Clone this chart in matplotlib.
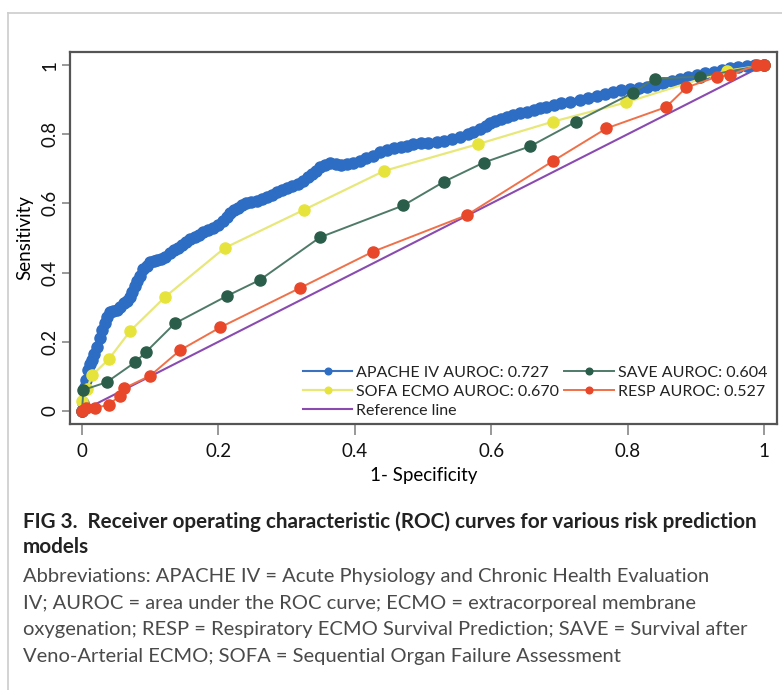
import matplotlib
matplotlib.use('Agg')
import matplotlib.pyplot as plt
from matplotlib.lines import Line2D

plt.rcParams['font.family'] = ['Lato', 'DejaVu Sans']

# ROC points (1 - specificity, sensitivity)
apache_fpr = [0, 0.002, 0.004, 0.006, 0.009, 0.012, 0.014, 0.018, 0.022, 0.026, 0.029, 0.033,
              0.036, 0.041, 0.046, 0.051, 0.056, 0.061, 0.066, 0.070, 0.073, 0.077, 0.080, 0.085,
              0.090, 0.095, 0.100, 0.105, 0.110, 0.116, 0.122, 0.129, 0.135, 0.141, 0.147, 0.153,
              0.159, 0.165, 0.172, 0.178, 0.185, 0.192, 0.200, 0.206, 0.212, 0.217, 0.223, 0.229,
              0.235, 0.241, 0.248, 0.256, 0.264, 0.271, 0.279, 0.286, 0.293, 0.300, 0.308, 0.316,
              0.324, 0.331, 0.337, 0.343, 0.349, 0.356, 0.364, 0.372, 0.380, 0.388, 0.397, 0.407,
              0.417, 0.427, 0.437, 0.447, 0.457, 0.467, 0.477, 0.486, 0.497, 0.508, 0.520, 0.531,
              0.543, 0.554, 0.566, 0.574, 0.584, 0.592, 0.598, 0.606, 0.615, 0.623, 0.632, 0.642,
              0.652, 0.662, 0.672, 0.681, 0.692, 0.703, 0.715, 0.730, 0.742, 0.755, 0.767, 0.779,
              0.791, 0.803, 0.816, 0.828, 0.840, 0.852, 0.865, 0.877, 0.889, 0.901, 0.913, 0.926,
              0.938, 0.950, 0.962, 0.975, 0.987, 1.0]
apache_tpr = [0, 0.022, 0.070, 0.090, 0.118, 0.135, 0.147, 0.165, 0.186, 0.210, 0.234, 0.255,
              0.273, 0.285, 0.290, 0.292, 0.300, 0.311, 0.318, 0.330, 0.345, 0.360, 0.375, 0.390,
              0.410, 0.420, 0.430, 0.434, 0.437, 0.440, 0.445, 0.456, 0.465, 0.472, 0.480, 0.489,
              0.497, 0.503, 0.510, 0.518, 0.524, 0.530, 0.538, 0.550, 0.562, 0.571, 0.580, 0.588,
              0.594, 0.600, 0.603, 0.608, 0.613, 0.619, 0.625, 0.632, 0.640, 0.644, 0.650, 0.657,
              0.666, 0.675, 0.684, 0.695, 0.706, 0.712, 0.716, 0.714, 0.712, 0.713, 0.717, 0.722,
              0.730, 0.738, 0.748, 0.755, 0.760, 0.764, 0.767, 0.771, 0.774, 0.776, 0.778, 0.781,
              0.787, 0.793, 0.800, 0.807, 0.815, 0.824, 0.831, 0.838, 0.845, 0.851, 0.855, 0.860,
              0.865, 0.870, 0.875, 0.879, 0.884, 0.889, 0.894, 0.899, 0.905, 0.911, 0.917, 0.923,
              0.927, 0.931, 0.934, 0.937, 0.943, 0.949, 0.955, 0.961, 0.966, 0.971, 0.976, 0.981,
              0.986, 0.991, 0.995, 0.998, 1.0, 1.0]

sofa_fpr = [0, 0.007, 0.015, 0.039, 0.071, 0.122, 0.209, 0.325, 0.443, 0.580, 0.690, 0.798, 0.945, 1.0]
sofa_tpr = [0.03, 0.063, 0.104, 0.149, 0.232, 0.330, 0.471, 0.581, 0.694, 0.771, 0.836, 0.892, 0.983, 1.0]

save_fpr = [0, 0.002, 0.036, 0.078, 0.094, 0.136, 0.212, 0.261, 0.349, 0.471, 0.531, 0.589, 0.657,
            0.724, 0.808, 0.840, 0.906, 1.0]
save_tpr = [0, 0.061, 0.083, 0.141, 0.171, 0.253, 0.332, 0.379, 0.502, 0.594, 0.663, 0.718, 0.765,
            0.836, 0.920, 0.961, 0.966, 1.0]

resp_fpr = [0, 0.006, 0.019, 0.039, 0.055, 0.062, 0.100, 0.144, 0.203, 0.319, 0.426, 0.564, 0.691,
            0.769, 0.856, 0.886, 0.931, 0.950, 0.989, 1.0]
resp_tpr = [0, 0.008, 0.010, 0.017, 0.044, 0.066, 0.102, 0.176, 0.242, 0.355, 0.460, 0.566, 0.723,
            0.817, 0.878, 0.935, 0.966, 0.971, 1.0, 1.0]

ref_x = [0, 1]
ref_y = [0, 1]

labels = ['APACHE IV AUROC: 0.727', 'SOFA ECMO AUROC: 0.670', 'SAVE AUROC: 0.604',
          'RESP AUROC: 0.527', 'Reference line']
ticks = [0, 0.2, 0.4, 0.6, 0.8, 1]
tick_labels = ['0', '0.2', '0.4', '0.6', '0.8', '1']

caption_title = 'FIG 3.  Receiver operating characteristic (ROC) curves for various risk prediction\nmodels'
caption_body = ['Abbreviations: APACHE IV = Acute Physiology and Chronic Health Evaluation',
                'IV; AUROC = area under the ROC curve; ECMO = extracorporeal membrane',
                'oxygenation; RESP = Respiratory ECMO Survival Prediction; SAVE = Survival after',
                'Veno-Arterial ECMO; SOFA = Sequential Organ Failure Assessment']

fig = plt.figure(figsize=(7.82, 6.9), dpi=100)

#light frame around the figure panel
fig.add_artist(Line2D([8/782, 8/782], [0, 1 - 13/690], color='#cccccc', lw=1.2))
fig.add_artist(Line2D([8/782, 1], [1 - 13/690, 1 - 13/690], color='#cccccc', lw=1.2))

ax = fig.add_axes([70/782, 1 - 424/690, 707/782, 372/690])

ax.plot(ref_x, ref_y, color='#8a4bb0', lw=1.5, zorder=1)
l_ap, = ax.plot(apache_fpr, apache_tpr, color='#3a72c0', lw=1.5, marker='o', ms=8,
                mfc='#2e6dc4', mec='#2e6dc4', zorder=2)
l_so, = ax.plot(sofa_fpr, sofa_tpr, color='#e8e87a', lw=1.6, marker='o', ms=8,
                mfc='#e6e43c', mec='#e6e43c', zorder=3)
l_sa, = ax.plot(save_fpr, save_tpr, color='#4f7a68', lw=1.4, marker='o', ms=8,
                mfc='#2b5e4a', mec='#2b5e4a', zorder=4)
l_re, = ax.plot(resp_fpr, resp_tpr, color='#f07048', lw=1.4, marker='o', ms=8,
                mfc='#e8472a', mec='#e8472a', zorder=5)
l_ref = Line2D([], [], color='#8a4bb0', lw=1.5)

ax.set_xlim(-0.0176, 1.019)
ax.set_ylim(-0.0376, 1.0376)
ax.set_xticks(ticks)
ax.set_xticklabels(tick_labels)
ax.set_yticks(ticks)
ax.set_yticklabels(tick_labels, rotation=90, va='center')
ax.tick_params(direction='out', width=1.2, color='#888888', labelsize=13.5, labelcolor='#111111')
ax.tick_params(axis='x', length=8, pad=6)
ax.tick_params(axis='y', length=6, pad=2)
for s in ax.spines.values():
    s.set_color('#555555')
    s.set_linewidth(1.6)

ax.set_xlabel('1- Specificity', fontsize=13.5, labelpad=5)
ax.set_ylabel('Sensitivity', fontsize=13.5, labelpad=6)

# legend: two columns, no frame
leg = ax.legend([l_ap, l_so, l_ref, l_sa, l_re],
                [labels[0], labels[1], labels[4], labels[2], labels[3]],
                ncol=2, loc='lower right', bbox_to_anchor=(0.995, 0.0), borderaxespad=0,
                frameon=False, fontsize=11.5, handlelength=3.1, handletextpad=0.25,
                columnspacing=0.3, labelspacing=0.3, markerscale=0.6)
for t in leg.get_texts():
    t.set_color('#222222')

fig.text(23/782, 1 - 511/690, caption_title, fontsize=14.85, fontweight='bold',
         color='#222222', va='top', linespacing=1.35)
for i, line in enumerate(caption_body):
    fig.text(23/782, 1 - (568 + i * 26.7)/690, line, fontsize=14.5,
             color='#4a4a4a', va='top')

plt.savefig('out.png', dpi=100)
